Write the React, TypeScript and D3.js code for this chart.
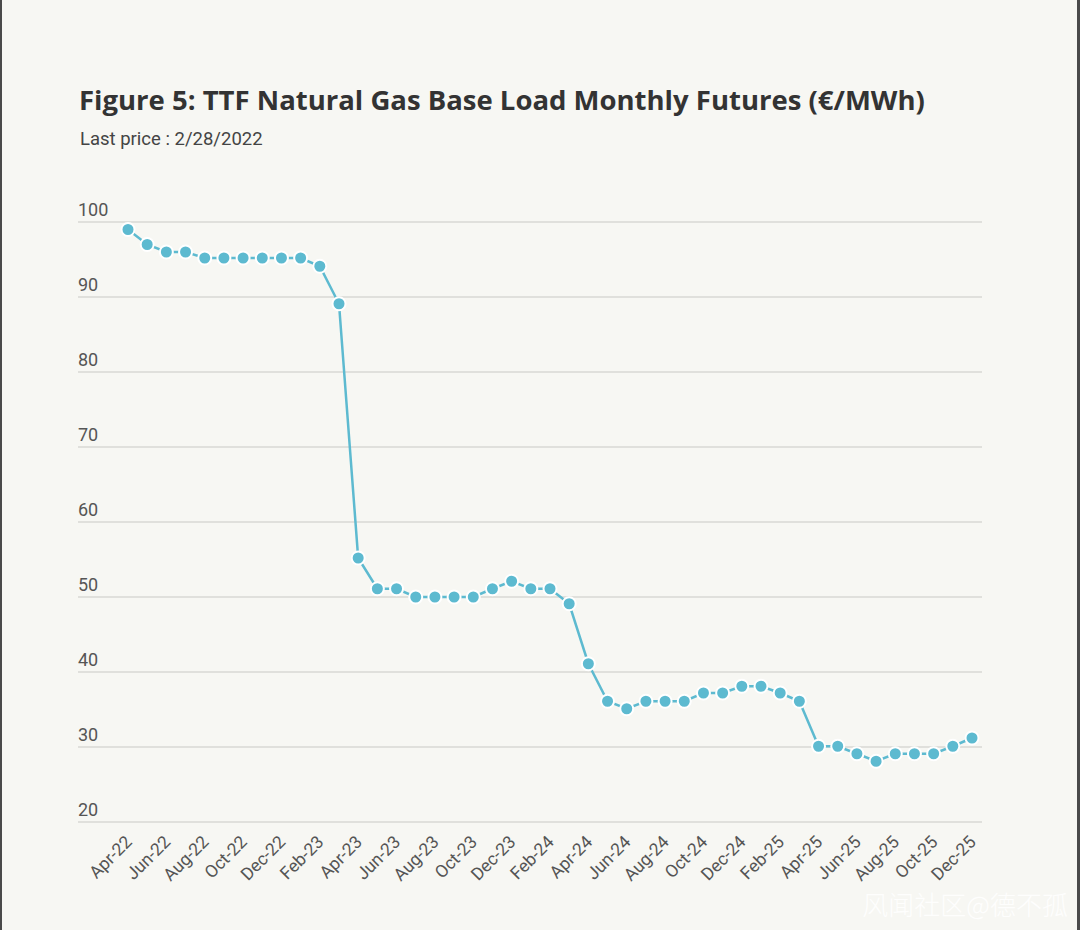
import React from "react";
import * as d3 from "d3";

// monthly contracts, Apr-22 .. Dec-25
const months: string[] = [
  "Apr-22", "May-22", "Jun-22", "Jul-22", "Aug-22", "Sep-22", "Oct-22", "Nov-22", "Dec-22", "Jan-23", "Feb-23", "Mar-23",
  "Apr-23", "May-23", "Jun-23", "Jul-23", "Aug-23", "Sep-23", "Oct-23", "Nov-23", "Dec-23", "Jan-24", "Feb-24", "Mar-24",
  "Apr-24", "May-24", "Jun-24", "Jul-24", "Aug-24", "Sep-24", "Oct-24", "Nov-24", "Dec-24", "Jan-25", "Feb-25", "Mar-25",
  "Apr-25", "May-25", "Jun-25", "Jul-25", "Aug-25", "Sep-25", "Oct-25", "Nov-25", "Dec-25",
];

// settlement prices (€/MWh)
const prices: number[] = [
  99, 97, 96, 96, 95.2, 95.2, 95.2, 95.2, 95.2, 95.2, 94.1, 89.1,
  55.2, 51.1, 51.1, 50, 50, 50, 50, 51.1, 52.1, 51.1, 51.1, 49.1,
  41.1, 36.1, 35.1, 36.1, 36.1, 36.1, 37.2, 37.2, 38.1, 38.1, 37.2, 36.1,
  30.1, 30.1, 29.1, 28.1, 29.1, 29.1, 29.1, 30.1, 31.2,
];

const yTicks: number[] = [20, 30, 40, 50, 60, 70, 80, 90, 100];

const title = "Figure 5: TTF Natural Gas Base Load Monthly Futures (€/MWh)";
const subtitle = "Last price : 2/28/2022";
const watermark = "风闻社区@德不孤";

const W = 1080;
const H = 930;
const plotLeft = 78;
const plotRight = 982;

export default function App() {
  const x = d3.scalePoint<string>().domain(months).range([128, 972]);
  const y = d3.scaleLinear().domain([20, 100]).range([822, 222]);

  const line = d3
    .line<number>()
    .x((_, i) => x(months[i]) as number)
    .y((d) => y(d));

  const color = "#5dbad0";
  const labelFont = "Roboto, 'Noto Sans', sans-serif";

  return (
    <div style={{ position: "absolute", left: 0, top: 0 }}>
      <svg width={W} height={H} style={{ display: "block" }}>
        <rect x={0} y={0} width={W} height={H} fill="#f7f7f3" />
        <rect x={0} y={0} width={2} height={H} fill="#4a4a4a" />
        <rect x={W - 3} y={0} width={3} height={H} fill="#4a4a4a" />

        <text x={79} y={110} fontFamily="'Open Sans', sans-serif" fontWeight={700} fontSize={27.5} fill="#333333">
          {title}
        </text>
        <text x={80} y={145} fontFamily={labelFont} fontSize={18.5} fill="#444444">
          {subtitle}
        </text>

        {yTicks.map((t) => (
          <g key={t}>
            <line x1={plotLeft} x2={plotRight} y1={y(t)} y2={y(t)} stroke="#d9d9d5" strokeWidth={1.5} />
            <text x={plotLeft} y={y(t) - 6} fontFamily={labelFont} fontSize={18} fill="#555555">
              {t}
            </text>
          </g>
        ))}

        {months
          .filter((_, i) => i % 2 === 0)
          .map((m) => {
            const tx = (x(m) as number) + 5;
            const ty = 843;
            return (
              <text
                key={m}
                x={tx}
                y={ty}
                transform={`rotate(-45 ${tx} ${ty})`}
                textAnchor="end"
                fontFamily={labelFont}
                fontSize={17.5}
                fill="#555555"
              >
                {m}
              </text>
            );
          })}

        <path d={line(prices) ?? ""} fill="none" stroke={color} strokeWidth={2.5} />
        {prices.map((p, i) => (
          <circle key={months[i]} cx={x(months[i])} cy={y(p)} r={6.5} fill={color} stroke="#ffffff" strokeWidth={2} />
        ))}

        <text
          x={1068}
          y={915}
          textAnchor="end"
          fontFamily="'Noto Sans CJK SC', sans-serif"
          fontWeight={300}
          fontSize={26}
          fill="#ffffff"
          fillOpacity={0.9}
        >
          {watermark}
        </text>
      </svg>
    </div>
  );
}
